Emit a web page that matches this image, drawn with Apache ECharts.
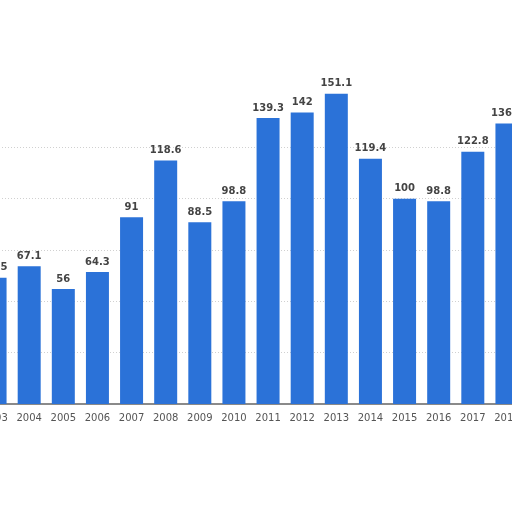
<!DOCTYPE html>
<html>
<head>
<meta charset="utf-8">
<script src="https://cdn.jsdelivr.net/npm/echarts@6/dist/echarts.min.js"></script>
<style>
  html, body { margin: 0; padding: 0; background: #fff; overflow: hidden; }
  #chart { position: absolute; left: -22px; top: 0; width: 546px; height: 512px; }
</style>
</head>
<body>
<div id="chart"></div>
<script>
// years on the x axis (the picture is cropped at both ends)
var years = ['2003', '2004', '2005', '2006', '2007', '2008', '2009', '2010',
             '2011', '2012', '2013', '2014', '2015', '2016', '2017', '2018'];
// value per year
var values = [61.5, 67.1, 56, 64.3, 91, 118.6, 88.5, 98.8,
              139.3, 142, 151.1, 119.4, 100, 98.8, 122.8, 136.6];

var chart = echarts.init(document.getElementById('chart'));

var option = {
    animation: false,
    grid: { left: 0, right: 0, top: 96, bottom: 108 },
    xAxis: {
        type: 'category',
        data: years,
        axisTick: { show: false },
        axisLine: { lineStyle: { color: '#8a8a8a', width: 2 } },
        axisLabel: { interval: 0, color: '#555', fontSize: 10, fontFamily: 'DejaVu Sans', margin: 9 }
    },
    yAxis: {
        type: 'value',
        min: 0,
        max: 150,
        interval: 25,
        axisLabel: { show: false },
        axisLine: { show: false },
        axisTick: { show: false },
        splitLine: {
            show: true,
            lineStyle: {
                // no line at 0 and at the top
                color: ['transparent', '#d0d0d0', '#d0d0d0', '#d0d0d0', '#d0d0d0', '#d0d0d0', 'transparent'],
                type: [1, 2]
            }
        }
    },
    series: [
        {
            type: 'bar',
            data: values,
            barWidth: 23,
            clip: false,
            itemStyle: { color: '#2b72d8' },
            label: {
                show: true,
                position: 'top',
                distance: 5,
                color: '#444',
                fontSize: 10,
                fontWeight: 'bold',
                fontFamily: 'DejaVu Sans'
            }
        }
    ]
};

chart.setOption(option);
</script>
</body>
</html>
